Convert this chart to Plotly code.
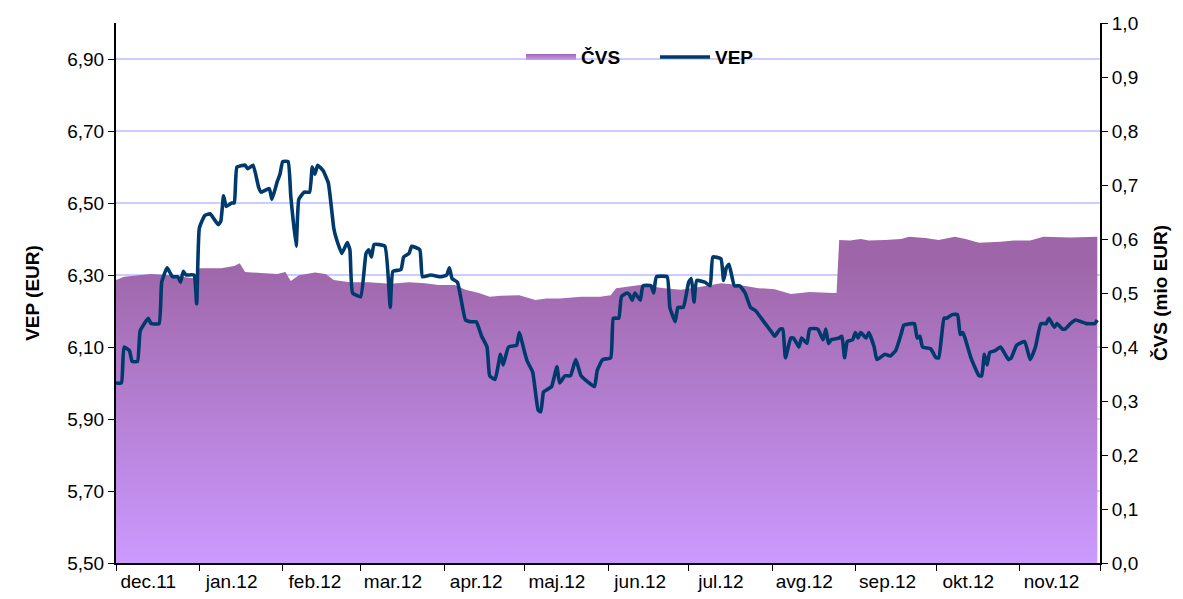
import pandas as pd
import plotly.graph_objects as go

# obdobje: dnevi od 1.12.2011
start = pd.Timestamp("2011-12-01")

vep_day = [0, 2, 3, 5, 6, 8, 9, 12, 13, 16, 17, 19, 21, 23, 24, 25, 26, 29, 30, 31,
           33, 35, 38, 39, 40, 41, 43, 44, 45, 48, 49, 51, 53, 54, 57, 58, 60, 61, 62, 64,
           65, 67, 68, 70, 72, 73, 74, 75, 77, 79, 81, 82, 84, 86, 87, 88, 91, 93, 94, 95,
           96, 100, 102, 103, 106, 107, 109, 110, 113, 114, 117, 121, 123, 124, 125, 127, 130, 132, 134, 136,
           138, 139, 141, 143, 144, 146, 149, 150, 152, 153, 155, 157, 158, 159, 160, 162, 164, 165, 167, 169,
           171, 173, 176, 178, 179, 181, 184, 185, 187, 188, 190, 191, 192, 193, 195, 196, 199, 200, 201, 205,
           206, 208, 209, 211, 213, 214, 215, 216, 219, 221, 222, 225, 226, 227, 228, 230, 232, 234, 236, 238,
           240, 242, 244, 245, 247, 248, 249, 251, 252, 254, 255, 257, 258, 261, 263, 264, 265, 266, 269, 270,
           271, 272, 274, 275, 276, 277, 279, 280, 282, 283, 285, 286, 288, 290, 292, 293, 296, 297, 298, 299,
           300, 303, 305, 306, 308, 309, 311, 313, 314, 315, 316, 318, 321, 322, 323, 324, 325, 327, 329, 332,
           333, 335, 338, 340, 342, 344, 346, 347, 349, 350, 352, 353, 355, 357, 359, 361, 364, 365]
vep = [6.00, 6.00, 6.10, 6.09, 6.06, 6.06, 6.145, 6.18, 6.165, 6.165, 6.28, 6.32, 6.295, 6.295, 6.28, 6.31, 6.30, 6.30, 6.22, 6.43,
       6.465, 6.47, 6.44, 6.45, 6.52, 6.49, 6.50, 6.50, 6.60, 6.605, 6.595, 6.605, 6.545, 6.53, 6.54, 6.51, 6.56, 6.58, 6.615, 6.615,
       6.52, 6.38, 6.51, 6.53, 6.53, 6.60, 6.58, 6.605, 6.59, 6.555, 6.43, 6.40, 6.36, 6.39, 6.37, 6.25, 6.24, 6.36, 6.37, 6.35,
       6.385, 6.38, 6.21, 6.31, 6.315, 6.35, 6.36, 6.38, 6.37, 6.295, 6.30, 6.295, 6.30, 6.32, 6.29, 6.28, 6.175, 6.17, 6.17, 6.13,
       6.10, 6.02, 6.01, 6.08, 6.05, 6.10, 6.105, 6.14, 6.085, 6.06, 6.03, 5.925, 5.92, 5.975, 5.98, 5.99, 6.045, 6.00, 6.02, 6.02,
       6.065, 6.02, 6.00, 5.99, 6.035, 6.065, 6.07, 6.18, 6.18, 6.24, 6.25, 6.245, 6.23, 6.25, 6.23, 6.27, 6.27, 6.25, 6.295, 6.295,
       6.21, 6.17, 6.21, 6.21, 6.28, 6.29, 6.225, 6.285, 6.28, 6.27, 6.35, 6.345, 6.285, 6.32, 6.33, 6.27, 6.27, 6.25, 6.21, 6.20,
       6.18, 6.16, 6.14, 6.13, 6.15, 6.15, 6.07, 6.125, 6.125, 6.10, 6.125, 6.11, 6.15, 6.15, 6.12, 6.15, 6.11, 6.12, 6.125, 6.13,
       6.07, 6.115, 6.12, 6.14, 6.125, 6.14, 6.125, 6.14, 6.10, 6.065, 6.075, 6.08, 6.075, 6.09, 6.135, 6.16, 6.165, 6.165, 6.125, 6.13,
       6.10, 6.095, 6.07, 6.07, 6.18, 6.18, 6.19, 6.19, 6.135, 6.14, 6.12, 6.07, 6.02, 6.02, 6.08, 6.05, 6.085, 6.09, 6.10, 6.065,
       6.07, 6.105, 6.115, 6.065, 6.10, 6.165, 6.165, 6.18, 6.155, 6.165, 6.15, 6.15, 6.165, 6.175, 6.17, 6.165, 6.165, 6.175]

cvs_day = [0, 3, 13, 20, 28, 29, 31, 39, 44, 46, 48, 54, 60, 63, 65, 68, 74, 78, 81, 87,
           94, 102, 109, 115, 120, 126, 130, 135, 139, 143, 150, 156, 160, 165, 173, 180, 184, 186, 195, 204,
           210, 217, 225, 232, 239, 245, 251, 258, 267, 268, 269, 273, 277, 280, 286, 292, 295, 301, 306, 312,
           316, 321, 329, 334, 340, 345, 355, 365]
cvs = [0.524, 0.53, 0.535, 0.533, 0.528, 0.528, 0.546, 0.546, 0.55, 0.555, 0.539, 0.537, 0.535, 0.539, 0.522, 0.533, 0.538, 0.535, 0.524, 0.52,
       0.52, 0.517, 0.52, 0.518, 0.515, 0.515, 0.506, 0.50, 0.493, 0.495, 0.496, 0.487, 0.49, 0.49, 0.493, 0.493, 0.496, 0.509, 0.515, 0.509,
       0.506, 0.511, 0.518, 0.515, 0.509, 0.507, 0.498, 0.502, 0.50, 0.50, 0.598, 0.597, 0.60, 0.597, 0.598, 0.60, 0.604, 0.602, 0.598, 0.604,
       0.60, 0.593, 0.595, 0.597, 0.597, 0.604, 0.603, 0.604]

month_labels = ["dec.11", "jan.12", "feb.12", "mar.12", "apr.12", "maj.12",
                "jun.12", "jul.12", "avg.12", "sep.12", "okt.12", "nov.12"]

vep_dates = start + pd.to_timedelta(vep_day, unit="D")
cvs_dates = start + pd.to_timedelta(cvs_day, unit="D")
month_starts = pd.date_range(start, periods=13, freq="MS")
label_pos = month_starts[:-1] + pd.Timedelta(days=12)

FONT = "Arial, Liberation Sans, sans-serif"
FS = 19

fig = go.Figure()

# ČVS - ploščinski graf (desna os)
fig.add_trace(go.Scatter(
    x=cvs_dates, y=cvs, name="ČVS", yaxis="y",
    mode="none", fill="tozeroy",
    fillgradient=dict(type="vertical", start=0, stop=0.56,
                      colorscale=[[0, "#CC99FF"], [1, "#9E66A8"]]),
))

# VEP - črta (leva os)
fig.add_trace(go.Scatter(
    x=vep_dates, y=vep, name="VEP", yaxis="y2",
    mode="lines", line=dict(color="#003A6C", width=3.6, shape="spline", smoothing=0.4),
))

fig.update_layout(
    width=1183, height=599,
    margin=dict(l=108, r=91, t=15, b=44),
    plot_bgcolor="white", paper_bgcolor="white",
    separators=",.",
    font=dict(family=FONT, size=FS, color="black"),
    showlegend=True,
    legend=dict(orientation="h", x=0.4116, y=0.972, xanchor="left", yanchor="top",
                bgcolor="rgba(0,0,0,0)", font=dict(size=FS, family=FONT, weight="bold"),
                itemwidth=50, entrywidth=69, entrywidthmode="pixels",
                traceorder="normal"),
    xaxis=dict(
        range=[month_starts[0], month_starts[-1]], automargin=False,
        tickmode="array", tickvals=label_pos, ticktext=month_labels, ticks="",
        showline=True, linecolor="black", linewidth=2,
        showgrid=False, zeroline=False,
        minor=dict(tickmode="array", tickvals=month_starts, ticks="outside",
                   ticklen=6, tickcolor="black", tickwidth=1, showgrid=False),
        tickfont=dict(size=FS),
    ),
    yaxis=dict(
        side="right", range=[0, 1], dtick=0.1, tick0=0, tickformat=".1f",
        automargin=False,
        showline=True, linecolor="black", linewidth=2,
        ticks="outside", ticklen=6, tickcolor="black",
        showgrid=False, zeroline=False,
        tickfont=dict(size=FS),
        title=dict(text="<b>ČVS (mio EUR)</b>", font=dict(size=FS), standoff=16),
    ),
    yaxis2=dict(
        overlaying="y", side="left", range=[5.5, 7.0], dtick=0.2, tick0=5.5,
        tickformat=".2f", automargin=False,
        showline=True, linecolor="black", linewidth=2,
        ticks="outside", ticklen=6, tickcolor="black",
        showgrid=True, gridcolor="#CCCCFF", gridwidth=1.5, zeroline=False,
        tickfont=dict(size=FS),
        title=dict(text="<b>VEP (EUR)</b>", font=dict(size=FS), standoff=23),
    ),
)

fig.write_html("out.html")
